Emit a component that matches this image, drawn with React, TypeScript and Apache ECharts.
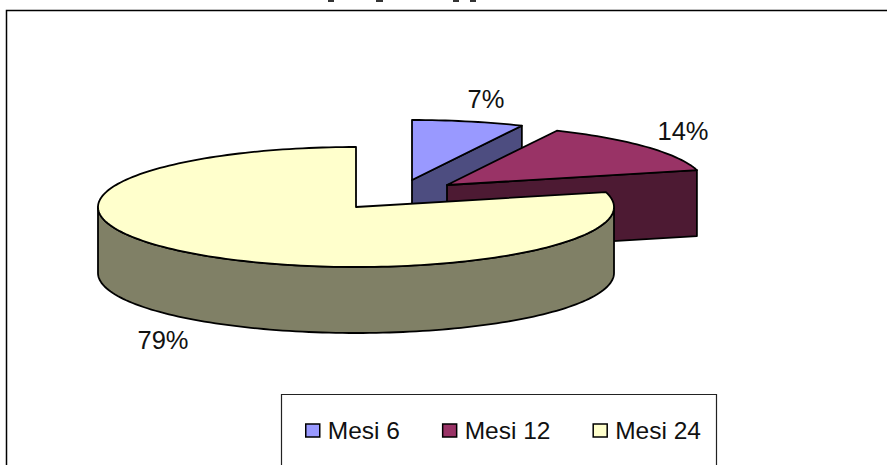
import React, { useEffect, useRef } from "react";
import * as echarts from "echarts";

// Share of each group, in percent
const categories = ["Mesi 6", "Mesi 12", "Mesi 24"];
const shares = [7, 14, 79];

// Fill of the top face and of the extruded side for each slice
const topColors = ["#9999FF", "#993366", "#FFFFCC"];
const sideColors = ["#4D4D80", "#4D1A33", "#808066"];

// Layout of the tilted pie: every slice is pulled away from the centre by its own anchor
const RX = 258;
const RY = 60;
const DEPTH = 66;
const anchors = [
  [412, 180],
  [447, 185],
  [356, 207],
];
const labelAnchors = [
  [486, 99],
  [683, 131],
  [163, 340],
];
const FONT = "Liberation Sans, Arial, sans-serif";

const total = shares.reduce((a, b) => a + b, 0);
const startFraction = (index: number) =>
  shares.slice(0, index).reduce((a, b) => a + b, 0) / total;

const rimPoint = (cx: number, cy: number, fraction: number, drop = 0) => {
  const a = fraction * Math.PI * 2;
  return [cx + RX * Math.sin(a), cy - RY * Math.cos(a) + drop];
};

const arcPoints = (cx: number, cy: number, from: number, to: number, drop = 0) => {
  const steps = Math.max(2, Math.ceil((to - from) * 240));
  const pts: number[][] = [];
  for (let i = 0; i <= steps; i++) {
    pts.push(rimPoint(cx, cy, from + ((to - from) * i) / steps, drop));
  }
  return pts;
};

const sliceRenderer = (index: number) => (_params: any, api: any) => {
  const from = startFraction(index);
  const to = from + api.value(0) / total;
  const [cx, cy] = anchors[index];
  const stroke = { stroke: "#000", lineWidth: 1.8, lineJoin: "round" };
  const children: any[] = [];

  // Cut face at the end of a slice that finishes on the right-hand side
  if (to <= 0.5) {
    const [ex, ey] = rimPoint(cx, cy, to);
    children.push({
      type: "polygon",
      shape: { points: [[cx, cy], [ex, ey], [ex, ey + DEPTH], [cx, cy + DEPTH]] },
      style: { fill: sideColors[index], ...stroke },
    });
  }

  // Outer wall: only the front half of the rim faces the viewer
  const wallFrom = Math.max(from, 0.25);
  const wallTo = Math.min(to, 0.75);
  if (wallTo > wallFrom) {
    const upper = arcPoints(cx, cy, wallFrom, wallTo);
    const lower = arcPoints(cx, cy, wallFrom, wallTo, DEPTH).reverse();
    children.push({
      type: "polygon",
      shape: { points: [...upper, ...lower] },
      style: { fill: sideColors[index], ...stroke },
    });
  }

  // Top face
  children.push({
    type: "polygon",
    shape: { points: [[cx, cy], ...arcPoints(cx, cy, from, to)] },
    style: { fill: topColors[index], ...stroke },
  });

  // Percentage label
  children.push({
    type: "text",
    x: labelAnchors[index][0],
    y: labelAnchors[index][1],
    style: {
      text: `${api.value(0)}%`,
      font: `25.5px ${FONT}`,
      fill: "#111",
      align: "center",
      verticalAlign: "middle",
    },
  });

  return { type: "group", children };
};

export default function App() {
  const ref = useRef<HTMLDivElement>(null);

  useEffect(() => {
    document.body.style.margin = "0";
    const chart = echarts.init(ref.current!, undefined, { renderer: "svg" });
    chart.setOption({
      animation: false,
      backgroundColor: "#fff",
      legend: {
        left: 305,
        top: 418,
        padding: 0,
        orient: "horizontal",
        itemWidth: 14,
        itemHeight: 13,
        itemGap: 42,
        selectedMode: false,
        icon: "rect",
        textStyle: { fontFamily: FONT, fontSize: 24.5, color: "#111", padding: [0, 0, 0, 3] },
        data: categories.map((name, i) => ({
          name,
          itemStyle: { color: topColors[i], borderColor: "#000", borderWidth: 1.5 },
        })),
      },
      graphic: [
        {
          type: "polyline",
          shape: { points: [[6.5, 465], [6.5, 10.5], [887, 10.5]] },
          style: { fill: "none", stroke: "#000", lineWidth: 1.5 },
        },
        {
          type: "polyline",
          shape: { points: [[281.5, 465], [281.5, 394.5], [716.5, 394.5], [716.5, 465]] },
          style: { fill: "none", stroke: "#222", lineWidth: 1.2 },
        },
        // Descenders of the heading that the page edge cuts off
        ...[
          [328, 6],
          [376, 7],
          [453, 6],
          [470, 6],
        ].map(([x, w]) => ({
          type: "rect",
          shape: { x, y: 0, width: w, height: 2 },
          style: { fill: "#333" },
        })),
      ],
      series: categories.map((name, i) => ({
        type: "custom",
        name,
        coordinateSystem: "none",
        silent: true,
        itemStyle: { color: topColors[i] },
        renderItem: sliceRenderer(i),
        data: [[shares[i]]],
        encode: { value: 0 },
      })),
    });
    return () => chart.dispose();
  }, []);

  return <div ref={ref} style={{ width: 887, height: 465 }} />;
}
